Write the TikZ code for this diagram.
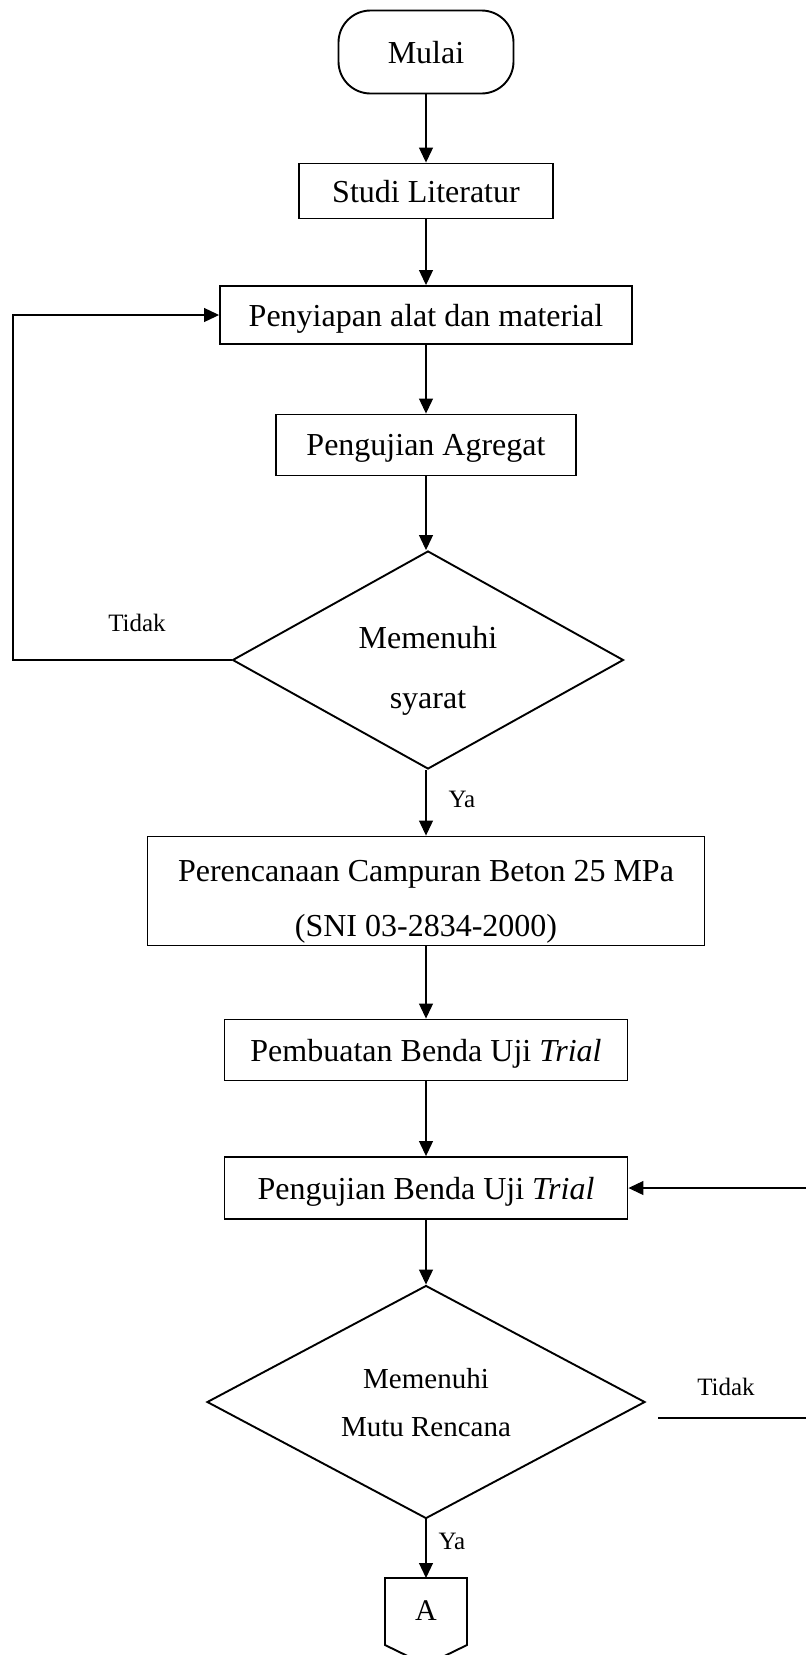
\documentclass[tikz,border=0pt]{standalone}
\usepackage{fontspec}
\setmainfont{Liberation Serif}
\usetikzlibrary{
	arrows.meta,
	shapes.geometric
}

\begin{document}
\begin{tikzpicture}[x=1pt, y=-1pt,
	box/.style={draw, line width=1.9pt, inner sep=0pt, text depth=0pt, font=\fontsize{32}{38}\selectfont},
	terminal/.style={box, rounded corners=32pt},
	cek/.style={box, diamond, aspect=1.8, align=center},
	arr/.style={line width=1.1pt, -{Triangle[length=15pt, width=14pt]}},
	lbl/.style={font=\fontsize{25}{30}\selectfont}
]
	\useasboundingbox (0,0) rectangle (806,1655);
	\clip (0,0) rectangle (806,1655);

	\node[terminal, minimum width=175pt, minimum height=83pt] (mulai) at (426,52) {Mulai};
	\node[box, minimum width=254pt, minimum height=55pt] (studi) at (426,191) {Studi Literatur};
	\node[box, minimum width=412pt, minimum height=58pt] (siap) at (426,315) {Penyiapan alat dan material};
	\node[box, minimum width=300pt, minimum height=61pt] (agregat) at (426,445) {Pengujian Agregat};
	\node[cek, minimum width=391pt, minimum height=218pt, font=\fontsize{32}{60}\selectfont] (syarat) at (428,660) {\rule{0pt}{36pt}Memenuhi\\syarat};
	\node[box, align=center, minimum width=557pt, minimum height=109pt, font=\fontsize{32}{55}\selectfont] (rencana) at (426,891) {\rule{0pt}{36pt}Perencanaan Campuran Beton 25 MPa\\(SNI 03-2834-2000)};
	\node[box, minimum width=403pt, minimum height=61pt] (buat) at (426,1050) {Pembuatan Benda Uji \textit{Trial}};
	\node[box, minimum width=403pt, minimum height=62pt] (uji) at (426,1188) {Pengujian Benda Uji \textit{Trial}};
	\node[cek, minimum width=438pt, minimum height=233pt, font=\fontsize{29}{48}\selectfont] (mutu) at (426,1402) {Memenuhi\\Mutu Rencana};

	% penghubung ke halaman berikut
	\coordinate (hal) at (426,1578);
	\draw[line width=1.9pt] (hal) -- ++(41,0) -- ++(0,67) -- ++(-41,20) -- ++(-41,-20) -- ++(0,-67) -- cycle;
	\node[font=\fontsize{30}{36}\selectfont] (A) at (426,1611) {A};

	\draw[arr] (mulai) -- (studi);
	\draw[arr] (studi) -- (siap);
	\draw[arr] (siap) -- (agregat);
	\draw[arr] (agregat) -- (agregat |- syarat.north);
	\draw[arr] (syarat.south -| rencana) -- (rencana);
	\draw[arr] (rencana) -- (buat);
	\draw[arr] (buat) -- (uji);
	\draw[arr] (uji) -- (mutu);
	\draw[arr] (mutu) -- (hal);

	\draw[arr] (syarat.west) -- (13,660) |- (siap.west);
	\coordinate (tdk) at (658,1418);
	\draw[arr] (tdk) -- (830,1418) |- (uji.east);

	\node[lbl] (tidak1) at (137,623) {Tidak};
	\node[lbl] (ya1) at (462,799) {Ya};
	\node[lbl] (tidak2) at (726,1387) {Tidak};
	\node[lbl] (ya2) at (452,1541) {Ya};
\end{tikzpicture}
\end{document}
